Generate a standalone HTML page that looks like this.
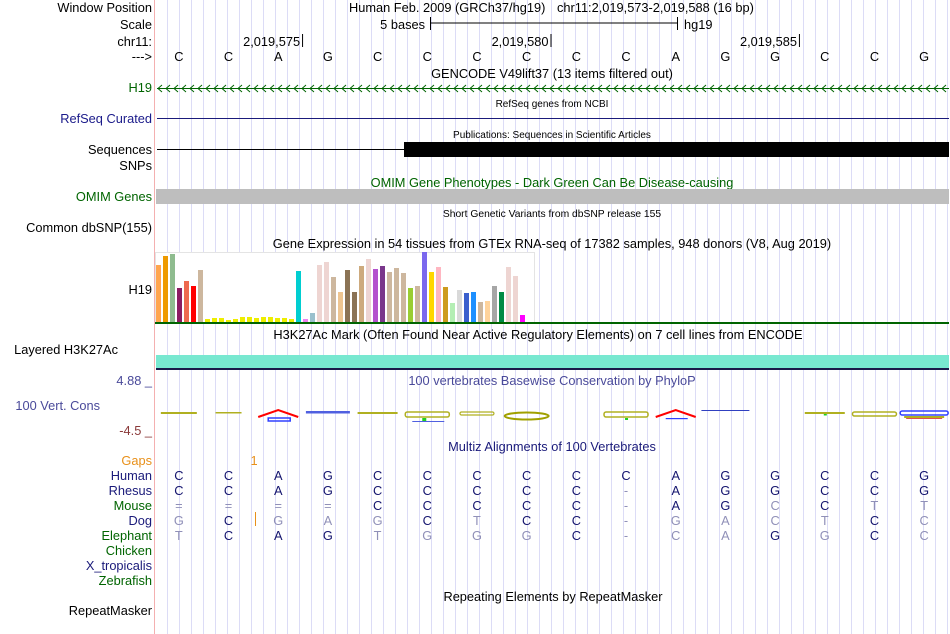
<!DOCTYPE html>
<html><head><meta charset="utf-8"><style>
html,body{margin:0;padding:0;background:#fff;}
svg{display:block;font-family:"Liberation Sans",sans-serif;}
</style></head><body>
<svg id="main" width="950" height="634" viewBox="0 0 950 634">
<g id="grid"></g>
<line x1="154.5" y1="0" x2="154.5" y2="634" stroke="#f4b0b0" stroke-width="1"/>
<g id="labels" font-size="12.8" text-anchor="end">
<text x="152" y="12" fill="#000">Window Position</text>
<text x="152" y="29" fill="#000">Scale</text>
<text x="152" y="46" fill="#000">chr11:</text>
<text x="152" y="61" fill="#000">---&gt;</text>
<text x="152" y="92" fill="#006400">H19</text>
<text x="152" y="123" fill="#1a1a8a">RefSeq Curated</text>
<text x="152" y="154" fill="#000">Sequences</text>
<text x="152" y="170" fill="#000">SNPs</text>
<text x="152" y="201" fill="#006400">OMIM Genes</text>
<text x="152" y="232" fill="#000">Common dbSNP(155)</text>
<text x="152" y="294" fill="#000">H19</text>
<text x="118" y="354" fill="#000">Layered H3K27Ac</text>
<text x="152" y="385" fill="#4a4a9a">4.88 _</text>
<text x="100" y="410" fill="#4a4a9a">100 Vert. Cons</text>
<text x="152" y="435" fill="#8b3a3a">-4.5 _</text>
<text x="152" y="465" fill="#e8901a">Gaps</text>
<text x="152" y="480" fill="#1a1a7a">Human</text>
<text x="152" y="495" fill="#1a1a7a">Rhesus</text>
<text x="152" y="510" fill="#006400">Mouse</text>
<text x="152" y="525" fill="#1a1a7a">Dog</text>
<text x="152" y="540" fill="#006400">Elephant</text>
<text x="152" y="555" fill="#006400">Chicken</text>
<text x="152" y="570" fill="#1a1a7a">X_tropicalis</text>
<text x="152" y="585" fill="#006400">Zebrafish</text>
<text x="152" y="615" fill="#000">RepeatMasker</text>
</g>
<g font-size="12.8" text-anchor="middle">
<text x="349" y="12" text-anchor="start">Human Feb. 2009 (GRCh37/hg19)</text>
<text x="557" y="12" text-anchor="start">chr11:2,019,573-2,019,588 (16 bp)</text>
<text x="552" y="78">GENCODE V49lift37 (13 items filtered out)</text>
<text x="552" y="107" font-size="10">RefSeq genes from NCBI</text>
<text x="552" y="138" font-size="10">Publications: Sequences in Scientific Articles</text>
<text x="552" y="187" fill="#006400">OMIM Gene Phenotypes - Dark Green Can Be Disease-causing</text>
<text x="552" y="217" font-size="10.3">Short Genetic Variants from dbSNP release 155</text>
<text x="552" y="248">Gene Expression in 54 tissues from GTEx RNA-seq of 17382 samples, 948 donors (V8, Aug 2019)</text>
<text x="538" y="339">H3K27Ac Mark (Often Found Near Active Regulatory Elements) on 7 cell lines from ENCODE</text>
<text x="552" y="385" fill="#4a4a9a">100 vertebrates Basewise Conservation by PhyloP</text>
<text x="552" y="451" fill="#1a1a7a">Multiz Alignments of 100 Vertebrates</text>
<text x="553" y="601">Repeating Elements by RepeatMasker</text>
</g>
<g>
<text x="425" y="29" font-size="12.8" text-anchor="end">5 bases</text>
<line x1="430" y1="23" x2="678" y2="23" stroke="#000"/>
<line x1="430.5" y1="17" x2="430.5" y2="30" stroke="#000"/>
<line x1="677.5" y1="17" x2="677.5" y2="30" stroke="#000"/>
<text x="684" y="29" font-size="12.8">hg19</text>
</g>
<g id="ruler" font-size="12.8"></g>
<g id="tracks"></g>
</svg>
<script>
const NS="http://www.w3.org/2000/svg";
const svg=document.getElementById('main');
function mk(tag,attrs,parent){const e=document.createElementNS(NS,tag);for(const k in attrs)e.setAttribute(k,attrs[k]);(parent||svg).appendChild(e);return e;}
// data
const baseSeq=["C","C","A","G","C","C","C","C","C","C","A","G","G","C","C","G"];
const rulerPositions=[2019575,2019580,2019585];
const firstPos=2019573;
const gtexColors=["#FFA54F","#EE9A00","#8FBC8F","#8B1C62","#EE6A50","#FF0000","#CDB79E","#EEEE00","#EEEE00","#EEEE00","#EEEE00","#EEEE00","#EEEE00","#EEEE00","#EEEE00","#EEEE00","#EEEE00","#EEEE00","#EEEE00","#EEEE00","#00CED1","#EE82EE","#9AC0CD","#EED5D2","#EED5D2","#CDB79E","#EEC591","#8B7355","#8B7355","#CDAA7D","#EED5D2","#B452CD","#7A378B","#CDB79E","#CDB79E","#CDB79E","#9ACD32","#CDB79E","#7B68EE","#FFD700","#FFB6C1","#CD9B1D","#B4EEB4","#D9D9D9","#3A5FCD","#1E90FF","#CDB79E","#FFD39B","#A6A6A6","#008B45","#EED5D2","#EED5D2","#FF00FF"];
const gtexValues=[57,66,68,34,41,36,52,3,4,4,2,3,5,5,4,5,5,4,4,3,51,3,9,57,60,45,30,52,30,56,63,53,56,50,54,49,34,36,70,50,55,35,19,32,29,30,20,21,36,30,55,46,7];
const gtexMax=70;
const species=["Human","Rhesus","Mouse","Dog","Elephant"];
const alnHuman=["C","C","A","G","C","C","C","C","C","C","A","G","G","C","C","G"];
const alnRhesus=["C","C","A","G","C","C","C","C","C","-","A","G","G","C","C","G"];
const alnMouse=["=","=","=","=","C","C","C","C","C","-","A","G","c","C","t","t"];
const alnDog=["g","C","g","a","g","C","t","C","C","-","g","a","c","t","C","c"];
const alnElephant=["t","C","A","G","t","g","g","g","C","-","c","a","G","g","C","c"];
const alnRows=[alnHuman,alnRhesus,alnMouse,alnDog,alnElephant];

const X0=154, BW=(949-154)/16;
function bx(i){return X0+BW*(i+0.5);}
function posX(p){return X0+BW*(p-firstPos);}

// grid
const grid=document.getElementById('grid');
for(let x=167;x<950;x+=12){
  const l=mk('line',{x1:x+0.5,y1:0,x2:x+0.5,y2:634,stroke:'#dcdcf6','stroke-width':1},grid);
  
  
}
// ruler
const ruler=document.getElementById('ruler');
rulerPositions.forEach(p=>{
  const x=posX(p)+BW-1;
  const t=mk('text',{x:x-2,y:46,'text-anchor':'end'},ruler);
  t.textContent=p.toLocaleString('en-US');
  
  
  const l=mk('line',{x1:x+0.5,y1:34,x2:x+0.5,y2:47,stroke:'#000'},ruler);
  
  
});
baseSeq.forEach((b,i)=>{
  const t=mk('text',{x:bx(i),y:61,'text-anchor':'middle'},ruler);
  t.textContent=b;
  
  
});
const tr=document.getElementById('tracks');
// H19 gene
let l=mk('line',{x1:157,y1:88.5,x2:949,y2:88.5,stroke:'#006400'},tr);


let d='';
for(let x=158;x<948;x+=8){d+=`M${x+4},85 L${x},88.5 L${x+4},92 `;}
l=mk('path',{d:d,stroke:'#006400',fill:'none','stroke-width':1},tr);


// RefSeq
l=mk('line',{x1:157,y1:118.5,x2:949,y2:118.5,stroke:'#1a1a7a'},tr);


// Publications
l=mk('line',{x1:157,y1:149.5,x2:404,y2:149.5,stroke:'#000'},tr);


l=mk('rect',{x:404,y:142,width:545,height:15,fill:'#000'},tr);


// OMIM
l=mk('rect',{x:156,y:189,width:793,height:15,fill:'#bebebe'},tr);


// GTEx
l=mk('rect',{x:155.5,y:252.5,width:379,height:70,fill:'#fff',stroke:'#e4e4e4'},tr);


const gBase=322, gH=70;
function gy(v){return gBase-v/gtexMax*gH;}
gtexValues.forEach((v,i)=>{
  const r=mk('rect',{x:156+7*i,y:gy(v),width:5,height:gBase-gy(v),fill:gtexColors[i]},tr);
  
  
});
l=mk('rect',{x:155,y:322,width:794,height:2,fill:'#006400'},tr);


// H3K27Ac
l=mk('rect',{x:156,y:355,width:793,height:13,fill:'#78e8d0'},tr);


l=mk('rect',{x:156,y:368,width:793,height:2,fill:'#1a1a4a'},tr);


// conservation logo (approximate glyphs)
const cg=mk('g',{},tr);


function addC(tag,a){const e=mk(tag,a,cg);}
const OL='#b0b020';
addC('rect',{x:bx(0)-18,y:412,width:36,height:2,fill:OL});
addC('rect',{x:bx(1)-13,y:412,width:26,height:1.5,fill:OL});
addC('path',{d:`M${bx(2)-20},417 L${bx(2)},410 L${bx(2)+20},417`,stroke:'#ff0000','stroke-width':2,fill:'none'});
addC('rect',{x:bx(2)-10,y:418,width:22,height:3,fill:'none',stroke:'#3040ff','stroke-width':1.5});
addC('rect',{x:bx(3)-22,y:411,width:44,height:2.5,fill:'#5060e0'});
addC('rect',{x:bx(4)-20,y:412,width:40,height:2,fill:OL});
addC('rect',{x:bx(5)-22,y:412,width:44,height:5,rx:2,fill:'none',stroke:OL,'stroke-width':1.5});
addC('rect',{x:bx(5)-5,y:418,width:4,height:4,fill:'#20d020'});
addC('rect',{x:bx(5)-15,y:421,width:32,height:1,fill:'#5060e0'});
addC('rect',{x:bx(6)-17,y:412,width:34,height:3,rx:1.5,fill:'none',stroke:OL,'stroke-width':1.2});
addC('ellipse',{cx:bx(7),cy:416,rx:22,ry:3.5,fill:'none',stroke:'#a0a000','stroke-width':2});
addC('rect',{x:bx(9)-22,y:412,width:44,height:5,rx:2,fill:'none',stroke:OL,'stroke-width':1.5});
addC('rect',{x:bx(9)-1,y:418,width:3,height:2,fill:'#20d020'});
addC('path',{d:`M${bx(10)-20},417 L${bx(10)},410 L${bx(10)+20},417`,stroke:'#ff0000','stroke-width':2,fill:'none'});
addC('rect',{x:bx(10)-10,y:418,width:22,height:1.2,fill:'#3040ff'});
addC('rect',{x:bx(11)-24,y:410,width:48,height:1,fill:'#3040c0'});
addC('rect',{x:bx(13)-20,y:412,width:40,height:2,fill:OL});
addC('rect',{x:bx(13)-1,y:414,width:3,height:1.5,fill:'#20d020'});
addC('rect',{x:bx(14)-22,y:412,width:44,height:4,rx:2,fill:'none',stroke:OL,'stroke-width':1.5});
addC('rect',{x:bx(15)-24,y:411,width:48,height:4,rx:2,fill:'none',stroke:'#3040ff','stroke-width':1.5});
addC('rect',{x:bx(15)-20,y:416,width:40,height:2,fill:OL});
addC('rect',{x:bx(15)-18,y:418,width:36,height:1,fill:'#e05050'});
// Gaps
let t=mk('text',{x:254,y:465,'font-size':12.8,fill:'#e8901a','text-anchor':'middle'},tr);
t.textContent='1';


l=mk('line',{x1:255.5,y1:512,x2:255.5,y2:526,stroke:'#e8901a'},tr);


// alignments
alnRows.forEach((row,r)=>{
  row.forEach((c,i)=>{
    const light=(c===c.toLowerCase()&&c!=='-')||c==='='||c==='-';
    const tt=mk('text',{x:bx(i),y:480+15*r,'font-size':12.8,'text-anchor':'middle',fill:light?'#9090b8':'#14146e'},tr);
    tt.textContent=c.toUpperCase();
    
    
  });
});
</script>
</body></html>
